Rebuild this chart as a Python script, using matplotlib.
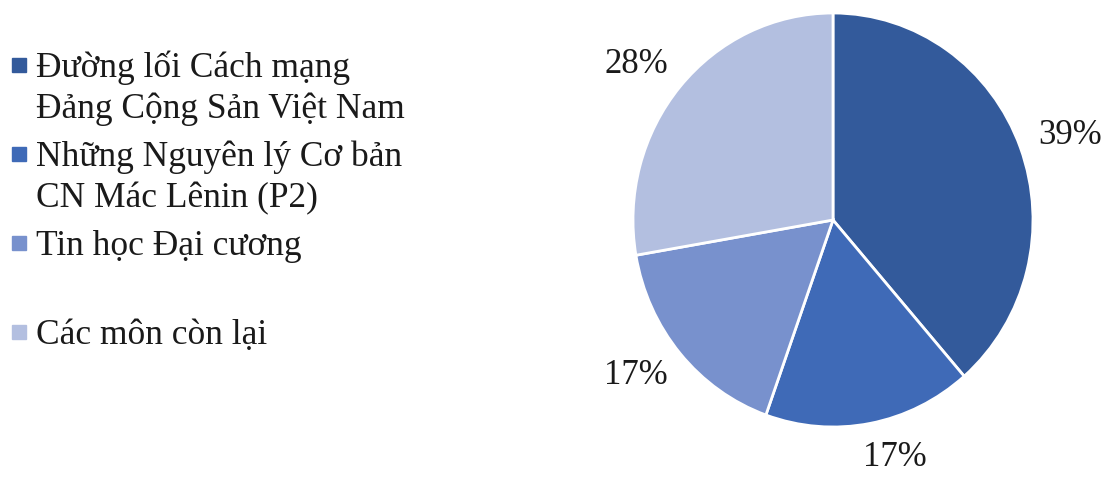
import numpy as np
import matplotlib.pyplot as plt
from matplotlib.patches import Rectangle

subjects = [
    "Đường lối Cách mạng\nĐảng Cộng Sản Việt Nam",
    "Những Nguyên lý Cơ bản\nCN Mác Lênin (P2)",
    "Tin học Đại cương\n",
    "Các môn còn lại",
]
shares = [39, 17, 17, 28]
colors = ["#335A9B", "#3F6AB7", "#7891CD", "#B3BFE0"]

plt.rcParams["font.family"] = ["Liberation Serif", "DejaVu Serif"]

W, H = 1120, 479
fig = plt.figure(figsize=(W / 100, H / 100), dpi=100)

# pie box in pixels (left, top, width, height)
px, py, pw, ph = 633, 13, 400, 414
ax = fig.add_axes([px / W, 1 - (py + ph) / H, pw / W, ph / H])
wedges, texts, pcts = ax.pie(
    shares, colors=colors, startangle=90, counterclock=False,
    autopct=lambda p: f"{p * sum(shares) / 100:.0f}%", pctdistance=1.17,
    wedgeprops=dict(edgecolor="white", linewidth=2),
    textprops=dict(fontsize=25, color="#1a1a1a"),
)
ax.set_aspect("auto")
ax.set_xlim(-1, 1)
ax.set_ylim(-1, 1)
ax.axis("off")
# push the percentage labels a little further out sideways
for t in pcts:
    x, y = t.get_position()
    t.set_position((x + 0.09 * np.sign(x), y))
    t.set_clip_on(False)

# hand-built legend: square marker next to the first line of each entry
y0 = 77
for i, (name, c) in enumerate(zip(subjects, colors)):
    base = y0 + i * 89
    fig.patches.append(Rectangle((12 / W, 1 - (base - 5) / H), 14 / W, 14 / H,
                                 transform=fig.transFigure, color=c))
    for j, line in enumerate(name.split("\n")):
        fig.text(36 / W, 1 - (base + j * 41) / H, line, fontsize=25.5,
                 color="#1a1a1a", va="baseline", ha="left")

fig.savefig("out.png", dpi=100)
